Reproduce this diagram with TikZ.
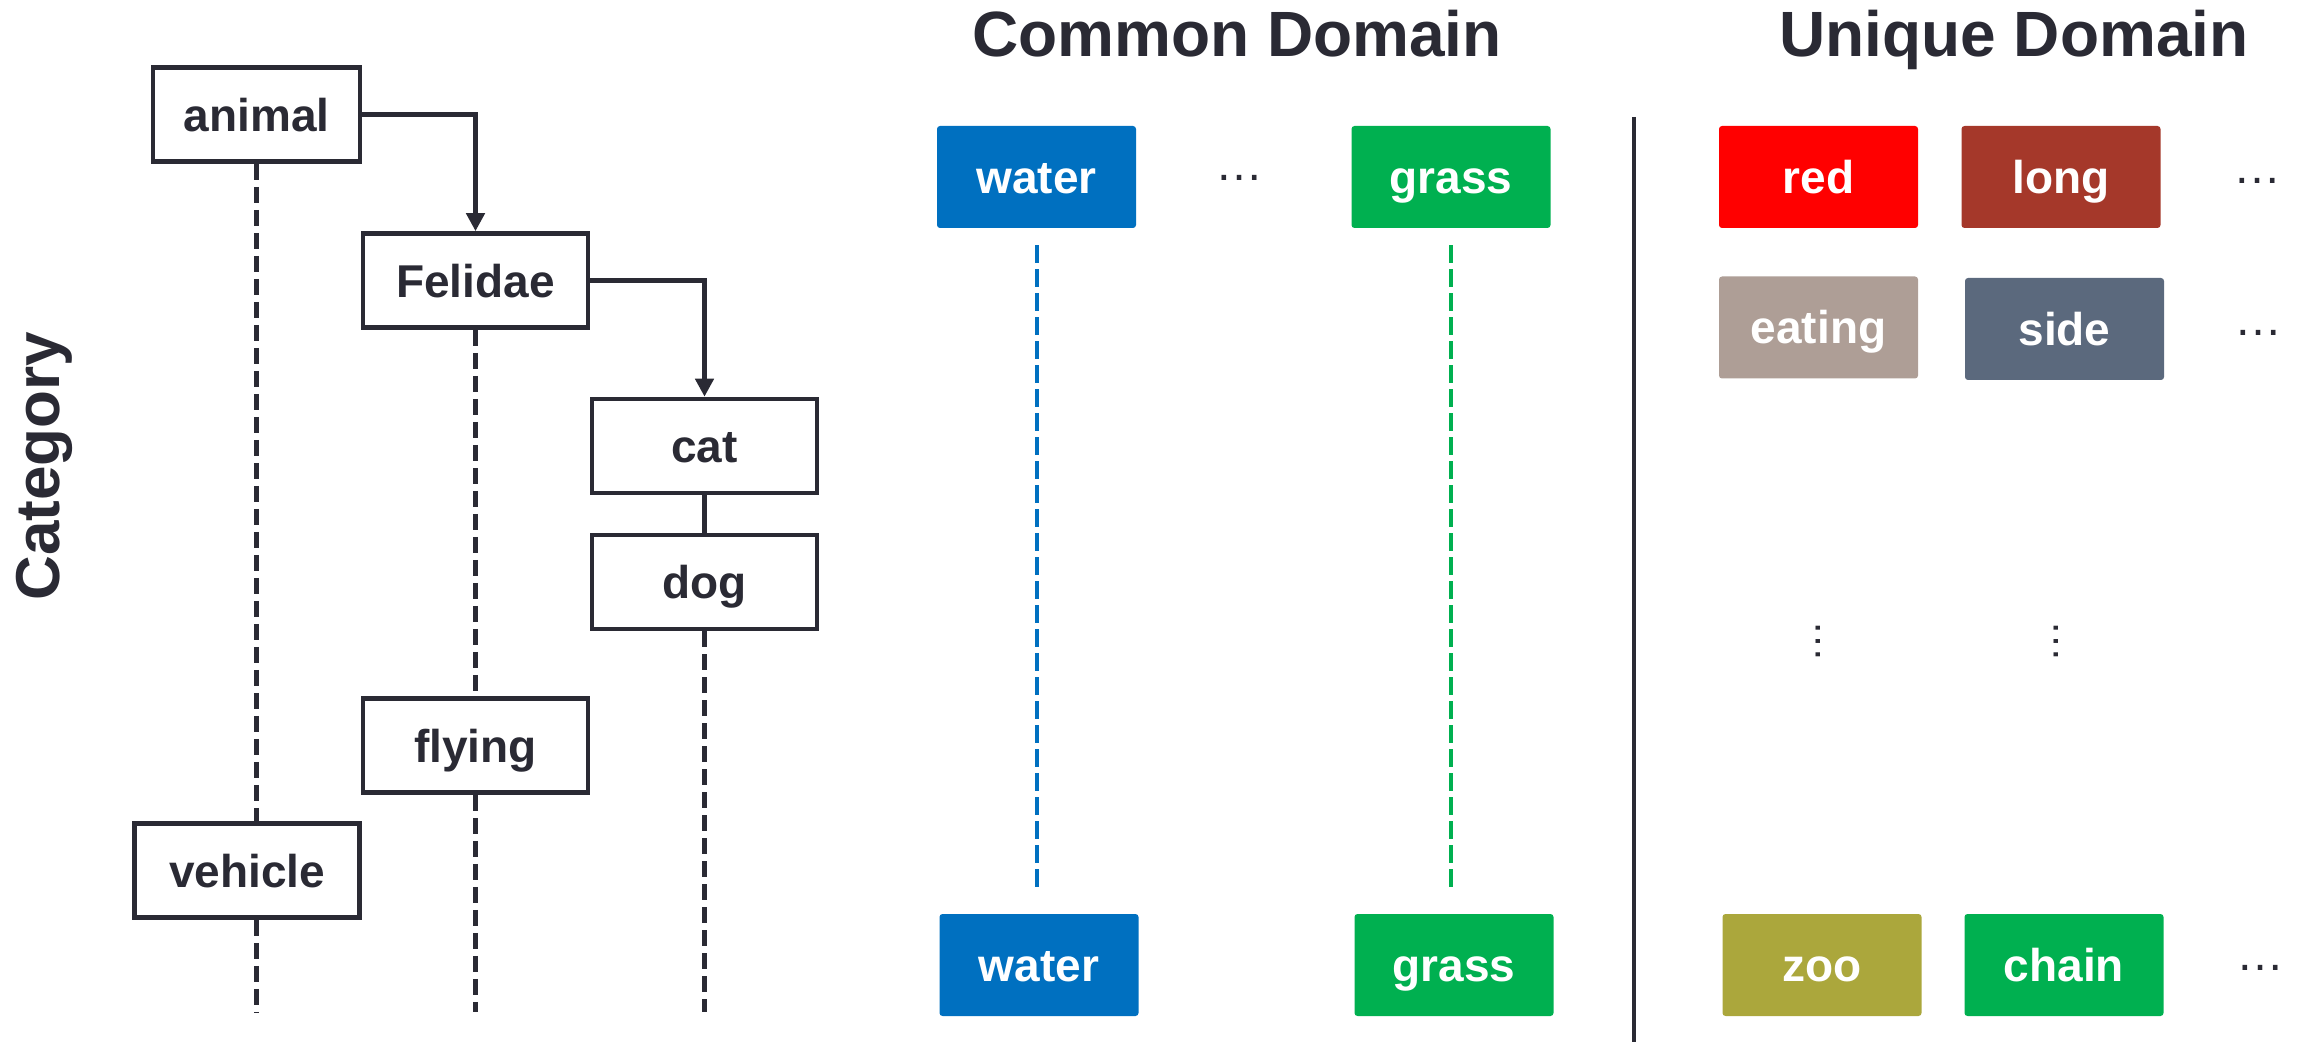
\documentclass[tikz,border=0pt]{standalone}
\usepackage{fontspec}
\setmainfont{Liberation Sans}
\usetikzlibrary{arrows.meta,calc}
\definecolor{dark}{HTML}{2A2A34}
\definecolor{cwater}{HTML}{0070C0}
\definecolor{cgrass}{HTML}{00B050}
\definecolor{cred}{HTML}{FF0000}
\definecolor{clong}{HTML}{A5382A}
\definecolor{ceating}{HTML}{AE9E96}
\definecolor{cside}{HTML}{5B697D}
\definecolor{czoo}{HTML}{ABA73C}
\tikzset{
  catbox/.style={draw=dark, line width=2.3pt, minimum width=112.5pt, minimum height=47pt,
    inner sep=0pt, text height=17pt, text depth=0pt,
    font=\fontsize{23}{26}\selectfont\bfseries, text=dark},
  colbox/.style={fill=#1, rounded corners=1.5pt, minimum width=99.5pt, minimum height=51pt,
    inner sep=0pt, text height=16.5pt, text depth=0pt,
    font=\fontsize{23}{26}\selectfont\bfseries, text=white},
  conn/.style={draw=dark, line width=2.3pt, -{Triangle[length=9pt,width=9pt]}},
  solidlink/.style={draw=dark, line width=2.3pt},
  catdash/.style={draw=dark, line width=2.2pt, dash pattern=on 8pt off 3.5pt},
  coldash/.style={draw=#1, line width=2pt, dash pattern=on 9pt off 3pt},
  dotstxt/.style={font=\fontsize{24}{26}\selectfont, text=dark, inner sep=0pt,
    text height=2.6pt, text depth=0pt},
  title/.style={font=\fontsize{32}{36}\selectfont\bfseries, text=dark, inner sep=0pt, anchor=base},
}
\begin{document}
\begin{tikzpicture}[x=0.5pt, y=-0.5pt]
\useasboundingbox (0,0) rectangle (2298,1042);
% category column
\node[rotate=90, font=\fontsize{31}{34}\selectfont\bfseries, text=dark] (catlabel) at (44,466) {Category};
\node[catbox, minimum width=103.5pt] (animal) at (256.5,114.5) {animal};
\node[catbox] (felidae) at (475.5,280.5) {Felidae};
\node[catbox] (cat) at (704.5,446) {cat};
\node[catbox] (dog) at (704.5,582) {dog};
\node[catbox] (flying) at (475.5,745.5) {flying};
\node[catbox] (vehicle) at (247,870.5) {vehicle};
\coordinate (bottom) at (0,1012);
\draw[conn] (animal.east) -| (felidae.north);
\draw[conn] (felidae.east) -| (cat.north);
\draw[solidlink] (cat.south) -- (dog.north);
\draw[catdash] (animal.south) -- (animal.south |- vehicle.north);
\draw[catdash] (animal.south |- vehicle.south) -- (animal.south |- bottom);
\draw[catdash] (felidae.south) -- (flying.north);
\draw[catdash] (flying.south) -- (flying.south |- bottom);
\draw[catdash] (dog.south) -- (dog.south |- bottom);
% titles
\node[title] (common) at (1237,57) {Common Domain};
\node[title] (unique) at (2014,57) {Unique Domain};
% common domain
\node[colbox=cwater] (waterT) at (1036.5,177) {water};
\node[colbox=cgrass] (grassT) at (1451,177) {grass};
\node[dotstxt] (dotsC) at (1239,178) {…};
\node[colbox=cwater] (waterB) at (1039,965) {water};
\node[colbox=cgrass] (grassB) at (1454,965) {grass};
\draw[coldash=cwater, shorten <=8.5pt, shorten >=13.5pt] (waterT.south) -- (waterT.south |- waterB.north);
\draw[coldash=cgrass, shorten <=8.5pt, shorten >=13.5pt] (grassT.south) -- (grassT.south |- grassB.north);
% separator
\coordinate (sepTop) at (1634,117);
\coordinate (sepBot) at (1634,1042);
\draw[dark, line width=2pt] (sepTop) -- (sepBot);
% unique domain
\node[colbox=cred] (red) at (1818.5,177) {red};
\node[colbox=clong] (long) at (2061,177) {long};
\node[dotstxt] (dotsU1) at (2257,181) {…};
\node[colbox=ceating] (eating) at (1818.5,327.5) {eating};
\node[colbox=cside] (side) at (2064.5,329) {side};
\node[dotstxt] (dotsU2) at (2258,333) {…};
\node[dotstxt, rotate=90, font=\fontsize{21}{24}\selectfont] (vd1) at (1818,642) {…};
\node[dotstxt, rotate=90, font=\fontsize{21}{24}\selectfont] (vd2) at (2056,642) {…};
\node[colbox=czoo] (zoo) at (1822,965) {zoo};
\node[colbox=cgrass] (chain) at (2064,965) {chain};
\node[dotstxt] (dotsU3) at (2260,968) {…};
\end{tikzpicture}
\end{document}
